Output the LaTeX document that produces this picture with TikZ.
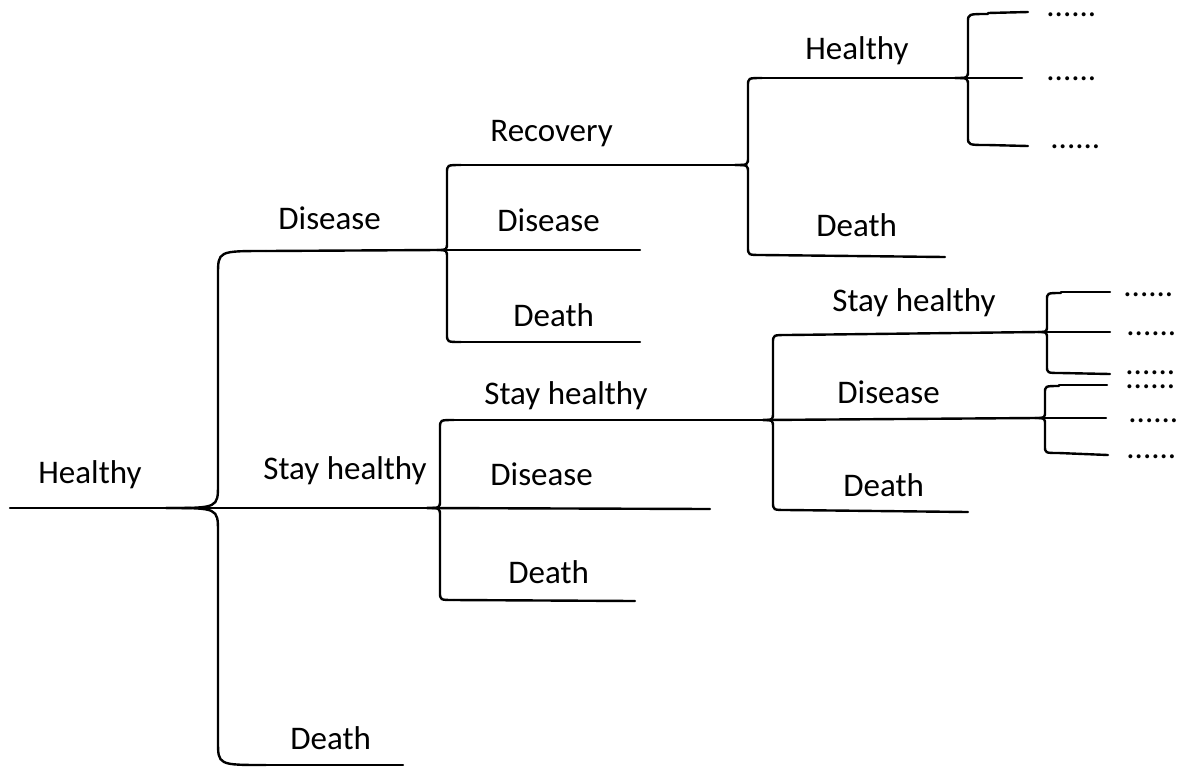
\documentclass[tikz,border=0pt]{standalone}
\usepackage{fontspec}
\setmainfont{Carlito}
\begin{document}
\begin{tikzpicture}[x=0.5pt,y=-0.5pt,
  branch/.style={line width=1.2pt,line cap=round},
  lbl/.style={anchor=base west,inner sep=0pt,font=\fontsize{16.5}{20}\selectfont},
  more/.style={anchor=base west,inner sep=0pt,font=\fontsize{16.5}{20}\selectfont}]
\useasboundingbox (0,0) rectangle (1177,767);

% brace: #1 spine x, #2 top y, #3 middle y, #4 bottom y, #5 tip x, #6 corner dx, #7 corner dy
\newcommand\forkbrace[7]{%
  \draw[branch] (#1+#6,#2) .. controls (#1,#2) .. (#1,#2+#7) -- (#1,#3-#7)
        .. controls (#1,#3) .. (#5,#3);
  \draw[branch] (#1+#6,#4) .. controls (#1,#4) .. (#1,#4-#7) -- (#1,#3+#7)
        .. controls (#1,#3) .. (#5,#3);}

% level 1
\forkbrace{218}{251}{508}{765}{166}{48}{24}
\draw[branch] (10,508) -- (166,508);
\draw[branch] (266,251) -- (437,250);
\draw[branch] (166,508) -- (427,508);
\draw[branch] (266,765) -- (403,765);

% level 2, after Disease
\forkbrace{447}{165}{250}{342}{437}{14}{8}
\draw[branch] (461,165) -- (735,165);
\draw[branch] (437,250) -- (640,250);
\draw[branch] (461,342) -- (640,342);

% level 2, after Stay healthy
\forkbrace{440}{420}{508}{600}{427}{14}{8}
\draw[branch] (454,420) -- (763,420);
\draw[branch] (427,508) -- (710,509);
\draw[branch] (454,600) -- (635,601);

% level 3, after Recovery
\forkbrace{748}{78}{165}{255}{735}{14}{8}
\draw[branch] (762,78) -- (955,78);
\draw[branch] (762,255) -- (945,257);

% level 3, after Stay healthy
\forkbrace{773}{335}{420}{510}{763}{14}{8}
\draw[branch] (787,335) -- (1038,332);
\draw[branch] (763,420) -- (1035,418);
\draw[branch] (787,510) -- (968,512);

% level 4
\forkbrace{968}{14}{78}{145}{955}{20}{8}
\draw[branch] (988,13) -- (1028,12);
\draw[branch] (955,78) -- (1022,78);
\draw[branch] (988,145) -- (1028,146);

\forkbrace{1047}{293}{332}{373}{1038}{14}{7}
\draw[branch] (1061,292) -- (1110,292);
\draw[branch] (1038,332) -- (1110,332);
\draw[branch] (1061,373) -- (1110,374);

\forkbrace{1045}{386}{418}{453}{1035}{14}{7}
\draw[branch] (1059,385) -- (1107,385);
\draw[branch] (1035,418) -- (1106,418);
\draw[branch] (1059,453) -- (1108,455);

% state labels
\node[lbl] (h0) at (38,483) {Healthy};
\node[lbl] (d1) at (278,229) {Disease};
\node[lbl] (s1) at (263,479) {Stay healthy};
\node[lbl] (x1) at (290,749) {Death};
\node[lbl] (r2) at (490,141) {Recovery};
\node[lbl] (d2) at (497,231) {Disease};
\node[lbl] (x2) at (513,326) {Death};
\node[lbl] (s2) at (484,404) {Stay healthy};
\node[lbl] (d3) at (490,485) {Disease};
\node[lbl] (x3) at (508,583) {Death};
\node[lbl] (h4) at (805,59) {Healthy};
\node[lbl] (x4) at (816,236) {Death};
\node[lbl] (s4) at (832,311) {Stay healthy};
\node[lbl] (d4) at (837,403) {Disease};
\node[lbl] (x5) at (843,496) {Death};

% continuation marks
\node[more] (m1) at (1046,16) {......};
\node[more] (m2) at (1046,80) {......};
\node[more] (m3) at (1050,148) {......};
\node[more] (m4) at (1123,296) {......};
\node[more] (m5) at (1126,335) {......};
\node[more] (m6) at (1125,374) {......};
\node[more] (m7) at (1125,388) {......};
\node[more] (m8) at (1128,422) {......};
\node[more] (m9) at (1126,458) {......};
\end{tikzpicture}
\end{document}
